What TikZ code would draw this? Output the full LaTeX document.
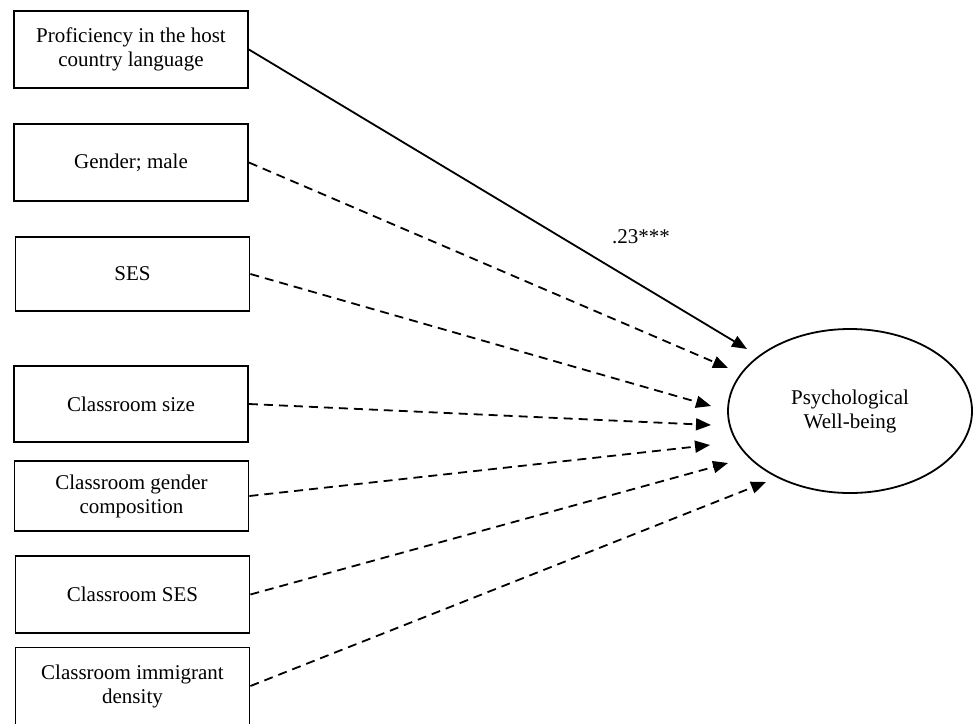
\documentclass[tikz,border=0pt]{standalone}
\usepackage{fontspec}
\setmainfont{Liberation Serif}
\usetikzlibrary{arrows.meta,shapes.geometric}
\begin{document}
\begin{tikzpicture}[x=1pt,y=-1pt,
  varbox/.style={draw,line width=1.8pt,minimum width=234pt,inner sep=0pt,align=center,font=\fontsize{21}{24}\selectfont},
  outcome/.style={draw,ellipse,line width=1.8pt,minimum width=244pt,minimum height=164pt,inner sep=0pt,align=center,font=\fontsize{21}{24}\selectfont},
  solidarrow/.style={line width=1.8pt,-{Triangle[length=15pt,width=12pt]}},
  dasharrow/.style={line width=1.8pt,dash pattern=on 9pt off 6pt,-{Triangle[length=15pt,width=12pt]}},
  coef/.style={font=\fontsize{21}{24}\selectfont,inner sep=0pt}]
\useasboundingbox (0,0) rectangle (973,723);
\node[varbox,minimum height=77pt] (b1) at (131,49.5) {Proficiency in the host\\country language};
\node[varbox,minimum height=77pt] (b2) at (131,162.5) {Gender; male};
\node[varbox,minimum height=74pt] (b3) at (132.5,274) {SES};
\node[varbox,minimum height=76pt] (b4) at (131,404) {Classroom size};
\node[varbox,minimum height=70pt] (b5) at (131.5,496) {Classroom gender\\composition};
\node[varbox,minimum height=77pt] (b6) at (132.5,594.5) {Classroom SES};
\node[varbox,minimum height=77pt] (b7) at (132.5,686) {Classroom immigrant\\density};
\node[outcome] (pw) at (850,411) {Psychological\\Well-being};
\coordinate (t1) at (747,349);
\coordinate (t2) at (728,368);
\coordinate (t3) at (711,406);
\coordinate (t4) at (711,425);
\coordinate (t5) at (710,445);
\coordinate (t6) at (728,463);
\coordinate (t7) at (766,482);
\draw[solidarrow] (b1.east) -- (t1);
\draw[dasharrow] (b2.east) -- (t2);
\draw[dasharrow] (b3.east) -- (t3);
\draw[dasharrow] (b4.east) -- (t4);
\draw[dasharrow] (b5.east) -- (t5);
\draw[dasharrow] (b6.east) -- (t6);
\draw[dasharrow] (b7.east) -- (t7);
\node[coef] (c1) at (641,237) {.23***};
\end{tikzpicture}
\end{document}
